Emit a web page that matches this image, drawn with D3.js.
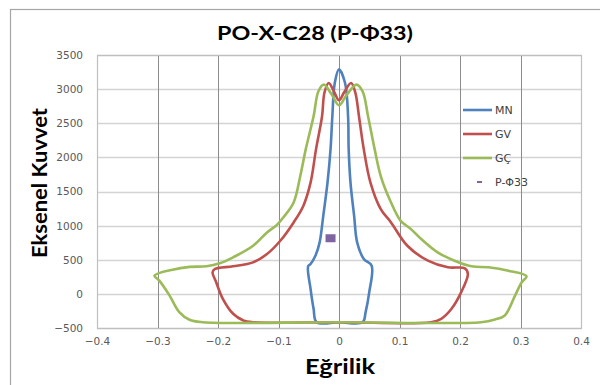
<!DOCTYPE html>
<html><head><meta charset="utf-8">
<script src="https://cdn.jsdelivr.net/npm/d3@7"></script>
<style>body{margin:0;background:#fff}svg{display:block}</style>
</head><body><svg id="c" width="600" height="385"></svg>
<script>
const title = "PO-X-C28 (P-Φ33)";
const xTitle = "Eğrilik";
const yTitle = "Eksenel Kuvvet";
const xTicks = [-0.4,-0.3,-0.2,-0.1,0,0.1,0.2,0.3,0.4];
const yTicks = [-500,0,500,1000,1500,2000,2500,3000,3500];
const seriesNames = ["MN","GV","GÇ"];
const pointName = "P-Φ33";

const mnX = [-0.037,-0.042,-0.047,-0.051,-0.047,-0.039,-0.032,-0.026,-0.019,-0.014,-0.011,-0.007,0,0.010,0.015,0.016,0.019,0.025,0.030,0.041,0.054,0.050,0.044,0.039,0];
const mnY = [-415,-219,73,404,438,559,755,1143,1630,2117,2603,3090,3290,3090,2603,2117,1630,1143,755,511,413,25,-267,-415,-415];

const gvX = [-0.142,-0.158,-0.175,-0.192,-0.203,-0.209,-0.205,-0.175,-0.142,-0.119,-0.097,-0.075,-0.059,-0.047,-0.038,-0.028,-0.024,-0.017,-0.008,0,0.009,0.020,0.027,0.033,0.041,0.052,0.069,0.086,0.113,0.147,0.180,0.208,0.213,0.202,0.186,0.169,0.152,0];
const gvY = [-415,-390,-292,-73,171,316,365,404,462,584,778,1047,1289,1630,2117,2603,2950,3090,2960,2836,2960,3090,2950,2603,2117,1630,1241,1047,705,486,389,375,292,25,-219,-365,-415,-415];

const gcX = [-0.225,-0.247,-0.264,-0.280,-0.297,-0.305,-0.275,-0.247,-0.219,-0.197,-0.175,-0.142,-0.119,-0.103,-0.092,-0.075,-0.064,-0.055,-0.042,-0.034,-0.025,-0.012,0,0.013,0.029,0.039,0.048,0.059,0.069,0.086,0.102,0.119,0.136,0.163,0.191,0.219,0.247,0.280,0.310,0.302,0.291,0.274,0.258,0.235,0];
const gcY = [-415,-380,-267,-25,194,267,355,395,404,448,536,705,900,1007,1120,1339,1727,2117,2603,2968,3066,2920,2764,2920,3066,2968,2603,2117,1727,1339,1070,949,803,609,486,404,389,340,258,171,-25,-317,-375,-415,-415];

const ptX = [-0.014];
const ptY = [815];

const colors = ["#4F81BD","#C0504D","#9BBB59"];
const ptColor = "#8064A2";

const svg = d3.select("#c");
// outer chart border
svg.append("rect").attr("x",10.5).attr("y",9.5).attr("width",600).attr("height",385)
  .attr("fill","none").attr("stroke","#A6A6A6").attr("stroke-width",1.2);

const L=97, R=581, T=55, B=328;
const x = d3.scaleLinear().domain([-0.4,0.4]).range([L,R]);
const y = d3.scaleLinear().domain([-500,3500]).range([B,T]);

const g = svg.append("g");
g.selectAll(".hg").data(yTicks).join("line")
  .attr("x1",L).attr("x2",R).attr("y1",d=>Math.round(y(d))+0.5).attr("y2",d=>Math.round(y(d))+0.5)
  .attr("stroke","#D4D4D4").attr("stroke-width",1.5);
g.selectAll(".vg").data(xTicks).join("line")
  .attr("y1",T).attr("y2",B).attr("x1",d=>Math.round(x(d))+0.5).attr("x2",d=>Math.round(x(d))+0.5)
  .attr("stroke","#8C8C8C").attr("stroke-width",1);
g.append("rect").attr("x",L+0.5).attr("y",T+0.5).attr("width",R-L).attr("height",B-T)
  .attr("fill","none").attr("stroke","#BFBFBF").attr("stroke-width",1.2);

const yAxis = d3.axisLeft(y).tickValues(yTicks).tickSize(0).tickPadding(14).tickFormat(d3.format("d"));
const ya = svg.append("g").attr("transform",`translate(${L},0)`).call(yAxis);
ya.select(".domain").remove();
ya.selectAll("text").attr("font-family","DejaVu Sans").attr("font-size",10.5).attr("fill","#595959");

const xAxis = d3.axisBottom(x).tickValues(xTicks).tickSize(0).tickPadding(10).tickFormat(d=>d===0?"0":d3.format(".1f")(d));
const xa = svg.append("g").attr("transform",`translate(0,${B})`).call(xAxis);
xa.select(".domain").remove();
xa.selectAll("text").attr("font-family","DejaVu Sans").attr("font-size",10.5).attr("fill","#595959");

const line = d3.line().x(d=>x(d[0])).y(d=>y(d[1])).curve(d3.curveCatmullRomClosed.alpha(0.5));
const series = [[mnX,mnY],[gvX,gvY],[gcX,gcY]];
series.forEach((s,i)=>{
  const pts = s[0].map((v,j)=>[v,s[1][j]]);
  svg.append("path").datum(pts).attr("d",line).attr("fill","none")
    .attr("stroke",colors[i]).attr("stroke-width",2.6).attr("stroke-linejoin","round");
});

svg.selectAll(".pt").data(ptX.map((v,i)=>[v,ptY[i]])).join("rect")
  .attr("x",d=>x(d[0])-5).attr("y",d=>y(d[1])-4).attr("width",10).attr("height",8)
  .attr("fill",ptColor);

svg.append("text").attr("x",315).attr("y",40).attr("text-anchor","middle")
  .attr("font-family","Lato").attr("font-weight","bold").attr("font-size",19.5)
  .attr("textLength",196).attr("lengthAdjust","spacingAndGlyphs").attr("fill","#000").text(title);
svg.append("text").attr("x",340).attr("y",374).attr("text-anchor","middle")
  .attr("font-family","Lato").attr("font-weight","bold").attr("font-size",20)
  .attr("textLength",70).attr("lengthAdjust","spacingAndGlyphs").attr("fill","#000").text(xTitle);
svg.append("text").attr("transform","translate(47,183) rotate(-90)").attr("text-anchor","middle")
  .attr("font-family","Lato").attr("font-weight","bold").attr("font-size",21)
  .attr("textLength",150).attr("lengthAdjust","spacingAndGlyphs").attr("fill","#000").text(yTitle);

const lg = svg.append("g");
const ly = [110,134,158];
seriesNames.forEach((n,i)=>{
  lg.append("line").attr("x1",463).attr("x2",492).attr("y1",ly[i]).attr("y2",ly[i])
    .attr("stroke",colors[i]).attr("stroke-width",2.6);
  lg.append("text").attr("x",495).attr("y",ly[i]+4).attr("font-family","DejaVu Sans").attr("font-size",11)
    .attr("fill","#404040").text(n);
});
lg.append("line").attr("x1",477).attr("x2",482).attr("y1",182).attr("y2",182).attr("stroke",ptColor).attr("stroke-width",2);
lg.append("text").attr("x",495).attr("y",186).attr("font-family","DejaVu Sans").attr("font-size",11)
  .attr("fill","#404040").text(pointName);
</script></body></html>
